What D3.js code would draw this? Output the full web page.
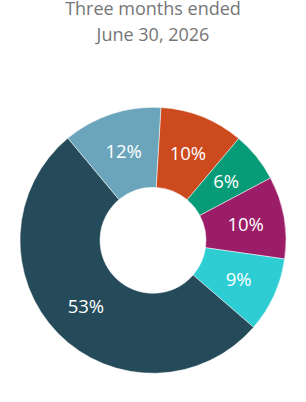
<!DOCTYPE html>
<html><head><meta charset="utf-8">
<script src="https://cdn.jsdelivr.net/npm/d3@7"></script>
<style>html,body{margin:0;padding:0;background:#fff;}</style>
</head><body>
<svg id="chart" width="306" height="402"></svg>
<script>
const titleLines = ["Three months ended", "June 30, 2026"];
const categories = ["A", "B", "C", "D", "E", "F"];
const values = [10.2, 6.1, 10, 9.1, 52.6, 12];
const labels = ["10%", "6%", "10%", "9%", "53%", "12%"];
const colors = ["#cd4a1f", "#079b78", "#9b1d67", "#2dcdd3", "#254b5a", "#6ba5bb"];

const svg = d3.select("#chart");
const cx = 153, cy = 240.3, rOuter = 133, rInner = 53;
const startOffset = 3.4 * Math.PI / 180;

svg.append("g").selectAll("text").data(titleLines).join("text")
  .attr("x", 153).attr("y", (d, i) => 14.5 + i * 26)
  .attr("text-anchor", "middle")
  .attr("font-family", "Open Sans, sans-serif")
  .attr("font-size", 18)
  .attr("fill", "#767676")
  .text(d => d);

const pie = d3.pie().sort(null).value(d => d.v)
  .startAngle(startOffset).endAngle(startOffset + 2 * Math.PI);
const data = categories.map((c, i) => ({c, v: values[i], label: labels[i], color: colors[i]}));
const arcs = pie(data);
const arc = d3.arc().innerRadius(rInner).outerRadius(rOuter);
const labelArc = d3.arc().innerRadius(94).outerRadius(94);

const g = svg.append("g").attr("transform", `translate(${cx},${cy})`);
g.selectAll("path").data(arcs).join("path")
  .attr("d", arc)
  .attr("fill", d => d.data.color)
  .attr("stroke", "#fff").attr("stroke-width", 0.5);

g.selectAll("text").data(arcs).join("text")
  .attr("transform", d => `translate(${labelArc.centroid(d)})`)
  .attr("text-anchor", "middle")
  .attr("dy", "0.36em")
  .attr("font-family", "Open Sans, sans-serif")
  .attr("font-size", 18.5)
  .attr("fill", "#fff")
  .text(d => d.data.label);
</script>
</body></html>
